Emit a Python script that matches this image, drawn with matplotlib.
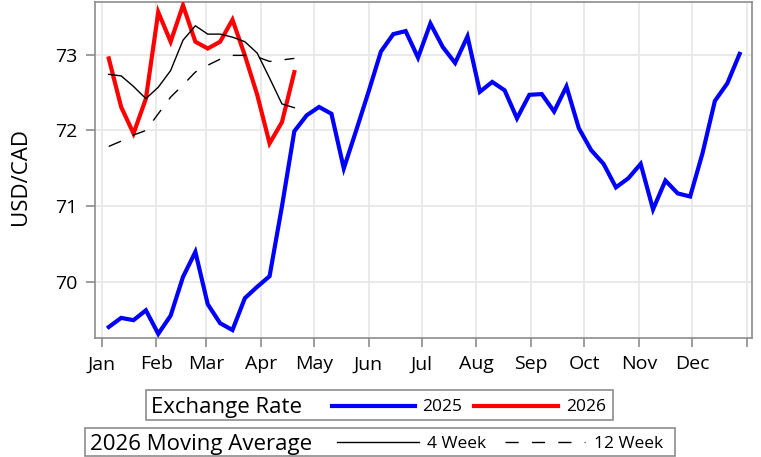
import numpy as np
import matplotlib
matplotlib.use("Agg")
import matplotlib.pyplot as plt
from matplotlib.lines import Line2D
from matplotlib.patches import Rectangle

plt.rcParams["font.family"] = ["Open Sans", "DejaVu Sans"]

# weekly observations, placed by day of year (Jan 1 = 0)
FIRST_DAY = 4
rate_2025 = [69.41, 69.53, 69.50, 69.63, 69.32, 69.56, 70.07, 70.40, 69.71, 69.46,
             69.37, 69.79, 69.94, 70.08, 71.00, 71.99, 72.20, 72.31, 72.22, 71.50,
             72.00, 72.51, 73.04, 73.27, 73.31, 72.96, 73.41, 73.10, 72.89, 73.24,
             72.51, 72.64, 72.53, 72.16, 72.47, 72.48, 72.25, 72.58, 72.03, 71.74,
             71.56, 71.25, 71.37, 71.56, 70.96, 71.34, 71.17, 71.13, 71.70, 72.39,
             72.62, 73.01]
rate_2026 = [72.95, 72.31, 71.96, 72.42, 73.56, 73.17, 73.65, 73.17, 73.08, 73.17,
             73.46, 72.99, 72.47, 71.83, 72.11, 72.77]
ma4_2026 = [72.74, 72.72, 72.58, 72.42, 72.57, 72.79, 73.19, 73.38, 73.27, 73.27,
            73.23, 73.17, 73.02, 72.69, 72.35, 72.30]
ma12_2026 = [71.79, 71.86, 71.94, 72.00, 72.22, 72.44, 72.60, 72.77, 72.86, 72.94,
             72.99, 72.99, 72.97, 72.91, 72.93, 72.95]

month_labels = ["Jan", "Feb", "Mar", "Apr", "May", "Jun", "Jul", "Aug", "Sep",
                "Oct", "Nov", "Dec"]
month_starts = [0, 31, 59, 90, 120, 151, 181, 212, 243, 273, 304, 334, 365]
y_ticks = [70, 71, 72, 73]

W, H = 761, 457
fig = plt.figure(figsize=(W / 100, H / 100), dpi=100)
ax = fig.add_axes([95 / W, 1 - 338 / H, (752 - 95) / W, (338 - 1.5) / H])

x25 = FIRST_DAY + 7 * np.arange(len(rate_2025))
x26 = FIRST_DAY + 7 * np.arange(len(rate_2026))

ax.plot(x25, rate_2025, color="#0000ff", lw=3.0, solid_joinstyle="miter", zorder=3)
ax.plot(x26, rate_2026, color="#ff0000", lw=3.0, solid_joinstyle="miter", zorder=3)
ax.plot(x26, ma4_2026, color="black", lw=1.0, zorder=4)
ax.plot(x26, ma12_2026, color="black", lw=1.0, dashes=(9.5, 9.5), zorder=4)

ax.set_xlim(-3.8, 368)
ax.set_ylim(69.265, 73.70)
ax.set_xticks(month_starts)
ax.set_xticklabels(month_labels + [""])
ax.set_yticks(y_ticks)
ax.grid(True, color="#e8e8e8", lw=1.3, zorder=0)
ax.set_axisbelow(True)
for s in ax.spines.values():
    s.set_color("#8c8c8c")
    s.set_linewidth(1.2)
ax.tick_params(axis="both", length=6.5, width=1.2, color="#8c8c8c",
               labelsize=14, labelcolor="black")
ax.tick_params(axis="x", pad=6)
ax.tick_params(axis="y", pad=6)
ax.set_ylabel("USD/CAD", fontsize=16)
ax.yaxis.set_label_coords(-(95 - 31) / (752 - 95), 0.48)


def fx(px):
    return px / W


def fy(py):
    return 1 - py / H


def box(x0, x1, y0, y1):
    fig.add_artist(Rectangle((fx(x0), fy(y1)), fx(x1 - x0), (y1 - y0) / H,
                             fill=False, edgecolor="#8c8c8c", lw=1.2))


def sample(x0, x1, y, **kw):
    fig.add_artist(Line2D([fx(x0), fx(x1)], [fy(y), fy(y)], **kw))


# legend 1
box(146, 612.5, 390, 419.5)
fig.text(fx(151), fy(405), "Exchange Rate", fontsize=16, va="center_baseline")
sample(332, 415, 405.5, color="#0000ff", lw=3.0)
fig.text(fx(422), fy(405), "2025", fontsize=12.5, va="center_baseline")
sample(474, 558, 405.5, color="#ff0000", lw=3.0)
fig.text(fx(566), fy(405), "2026", fontsize=12.5, va="center_baseline")

# legend 2
box(85, 675, 427.5, 456)
fig.text(fx(90), fy(442), "2026 Moving Average", fontsize=16, va="center_baseline")
sample(337, 419, 442.3, color="black", lw=1.0)
fig.text(fx(427), fy(442), "4 Week", fontsize=12.5, va="center_baseline")
sample(505, 585, 442.3, color="black", lw=1.0, dashes=(9.5, 9.5))
fig.text(fx(594), fy(442), "12 Week", fontsize=12.5, va="center_baseline")

fig.savefig("out.png", dpi=100)
